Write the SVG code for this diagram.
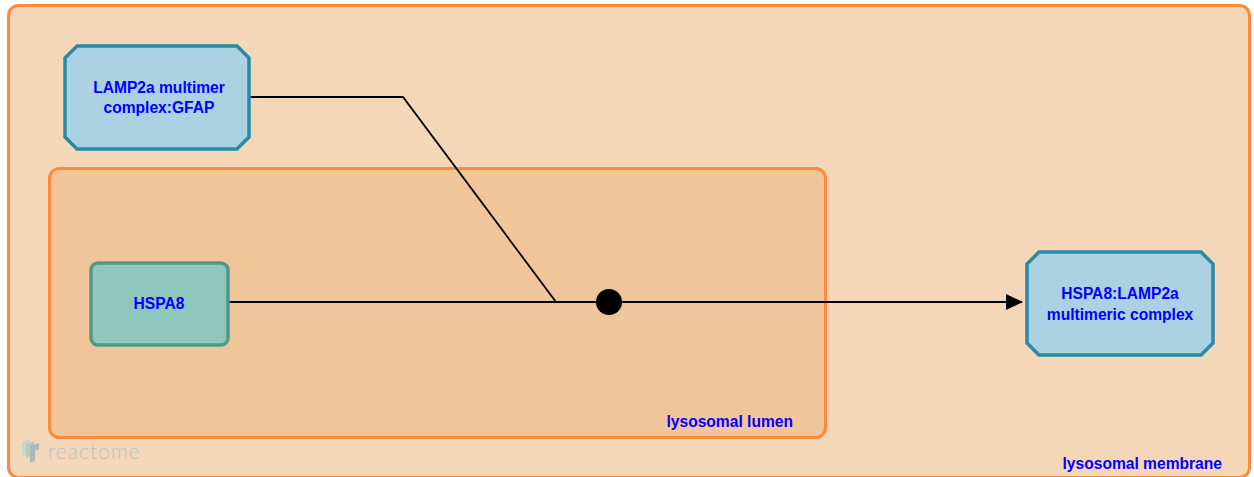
<svg xmlns="http://www.w3.org/2000/svg" width="1254" height="477" viewBox="0 0 1254 477">
<style>
.comp{stroke:#ff8a3c;stroke-width:3}
.lbl{font-family:"Liberation Sans",Arial,sans-serif;font-weight:bold;font-size:15.6px;fill:#0000ff}
.complex{fill:#acd1e3;stroke:#2a8aa6;stroke-width:3.5}
.prot{fill:#8fc7bd;stroke:#4f9a88;stroke-width:3.5}
.edge{fill:none;stroke:#000;stroke-width:1.8}
</style>
<defs>
<marker id="arr" markerWidth="18" markerHeight="16" refX="16" refY="8" orient="auto" markerUnits="userSpaceOnUse">
<path d="M0,0 L17,8 L0,16 Z" fill="#000"/>
</marker>
</defs>
<rect width="1254" height="477" fill="#ffffff"/>
<g id="lysosomal-membrane">
<rect class="comp" x="8.5" y="5.5" width="1241" height="472" rx="10" fill="#f4d6b9"/>
<text class="lbl" x="1222" y="469" text-anchor="end">lysosomal membrane</text>
</g>
<g id="lysosomal-lumen">
<rect class="comp" x="49.5" y="168.5" width="776" height="269" rx="10" fill="#f0c59a"/>
<text class="lbl" x="793" y="427" text-anchor="end">lysosomal lumen</text>
</g>
<g id="reactome-logo" opacity="0.55">
<path d="M22,442 l8,-3 v14 l-8,3 z" fill="#a9cfd9"/>
<path d="M26,444 l8,-3 v14 l-8,3 z" fill="#8cbccb"/>
<path d="M30,446 l9,-3 v6 l-4,2 v10 l-5,2 z" fill="#6aa8ba"/>
<text x="48" y="459" font-family="Lato,'Liberation Sans',sans-serif" font-weight="300" font-size="21" fill="#7fb8c6" letter-spacing="1">reactome</text>
</g>
<g id="connectors">
<polyline class="edge" points="249,97 403,97 556,302"/>
<line class="edge" x1="228" y1="302" x2="609" y2="302"/>
<line class="edge" x1="609" y1="302" x2="1022" y2="302" marker-end="url(#arr)"/>
<circle cx="609" cy="302" r="13" fill="#000"/>
</g>
<g id="node-lamp2a">
<polygon class="complex" points="77,46 237,46 249,58 249,137 237,149 77,149 65,137 65,58"/>
<text class="lbl" x="159" y="93" text-anchor="middle">LAMP2a multimer</text>
<text class="lbl" x="159" y="113" text-anchor="middle">complex:GFAP</text>
</g>
<g id="node-hspa8">
<rect class="prot" x="91" y="263" width="137" height="82" rx="7"/>
<text class="lbl" x="159" y="309" text-anchor="middle">HSPA8</text>
</g>
<g id="node-product">
<polygon class="complex" points="1039,252 1201,252 1213,264 1213,343 1201,355 1039,355 1027,343 1027,264"/>
<text class="lbl" x="1120" y="299" text-anchor="middle">HSPA8:LAMP2a</text>
<text class="lbl" x="1120" y="320" text-anchor="middle">multimeric complex</text>
</g>
</svg>
